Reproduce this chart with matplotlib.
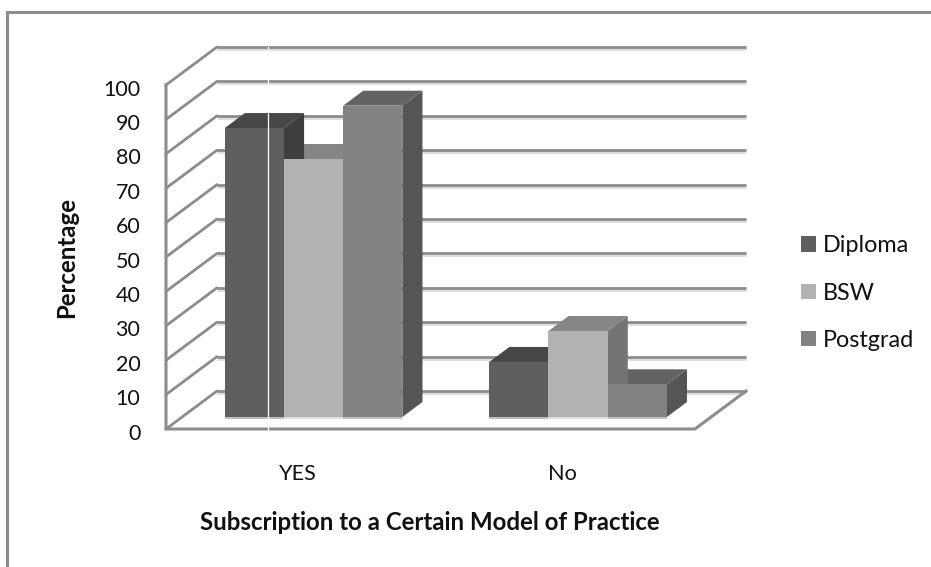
import matplotlib
matplotlib.use("Agg")
import matplotlib.pyplot as plt
from matplotlib.patches import Polygon, Patch
from matplotlib.lines import Line2D
from matplotlib.transforms import ScaledTranslation
import matplotlib.patheffects as pe

categories = ["YES", "No"]
series_names = ["Diploma", "BSW", "Postgrad"]
diploma = [84, 16]
bsw = [75, 25]
postgrad = [90.5, 9.5]
y_ticks = list(range(0, 101, 10))
x_label = "Subscription to a Certain Model of Practice"
y_label = "Percentage"

FRONT = ["#5f5f5f", "#b2b2b2", "#828282"]
TOP = ["#474747", "#868686", "#636363"]
SIDE = ["#3e3e3e", "#747474", "#555555"]
GRID = "#8c8c8c"
TEXT = "#111111"

plt.rcParams["font.family"] = "Lato"
W, H = 931, 567
fig = plt.figure(figsize=(W / 100, H / 100), dpi=100, facecolor="white")

# chart frame: only top and left edges are visible
fig.add_artist(Line2D([7 / W, 7 / W, 1], [0, 1 - 12 / H, 1 - 12 / H], color=GRID, lw=2.2,
                      solid_joinstyle="miter"))

L, R, B, T = 166, 695, 429, 85
ax = fig.add_axes([L / W, 1 - B / H, (R - L) / W, (B - T) / H])
ax.set_xlim(0, len(categories))
ax.set_ylim(0, 100)
for s in ax.spines.values():
    s.set_visible(False)
ax.patch.set_alpha(0)

ppx = (R - L) / len(categories)
ppy = (B - T) / 100.0
DX = 51 / ppx      # full depth of the 3-D box in x units
DY = 38 / ppy      # full depth of the 3-D box in value units


def proj(x, v, z):
    return x + z * DX, v + z * DY


shadow = [pe.SimpleLineShadow(offset=(0, -1.4), shadow_color="#dcdcdc", alpha=1), pe.Normal()]
xmax = len(categories)
for v in y_ticks:
    p0, p1, p2 = proj(0, v, 0), proj(0, v, 1), proj(xmax, v, 1)
    ax.plot([p0[0], p1[0]], [p0[1], p1[1]], color=GRID, lw=2, clip_on=False, zorder=1,
            solid_capstyle="round")
    ax.plot([p1[0], p2[0]], [p1[1], p2[1]], color=GRID, lw=2, clip_on=False, zorder=1,
            path_effects=shadow, solid_capstyle="butt")
# floor + left wall
p3 = proj(xmax, 0, 1)
ax.plot([0, 0, xmax, p3[0]], [100, 0, 0, p3[1]], color=GRID, lw=2.2, clip_on=False, zorder=1,
        solid_joinstyle="miter")

# bars: tops and sides back-to-front by height, then all front faces on top
bw = 59.2 / ppx
z0, z1 = 12 / 38, 27 / 38
shift = -0.8 / ppx
values = [diploma, bsw, postgrad]
for ci in range(len(categories)):
    x_start = ci + 0.5 - 1.5 * bw + shift
    order = sorted(range(3), key=lambda k: values[k][ci])
    for rank, k in enumerate(order):
        v = values[k][ci]
        x0 = x_start + k * bw
        x1 = x0 + bw
        side = [proj(x1, 0, z0), proj(x1, 0, z1), proj(x1, v, z1), proj(x1, v, z0)]
        top = [proj(x0, v, z0), proj(x1, v, z0), proj(x1, v, z1), proj(x0, v, z1)]
        ax.add_patch(Polygon(side, fc=SIDE[k], ec="none", clip_on=False, zorder=3 + rank * 0.1))
        ax.add_patch(Polygon(top, fc=TOP[k], ec="none", clip_on=False, zorder=3 + rank * 0.1))
    for k in range(3):
        v = values[k][ci]
        x0 = x_start + k * bw
        x1 = x0 + bw
        front = [proj(x0, 0, z0), proj(x1, 0, z0), proj(x1, v, z0), proj(x0, v, z0)]
        ax.add_patch(Polygon(front, fc=FRONT[k], ec="none", clip_on=False, zorder=4))
        a, b = proj(x0, 0, z0), proj(x1, 0, z0)
        ax.plot([a[0], b[0]], [a[1] - 0.3, b[1] - 0.3], color="#b8b8b8" if k != 1 else "#dcdcdc",
                lw=1.3, clip_on=False, zorder=4.1, solid_capstyle="butt")

# thin white stripe present in the source image
ax.plot([(268 - L) / ppx] * 2, [-0.6, 111], color="white", lw=0.9, clip_on=False, zorder=5)

ax.set_xticks([i + 0.5 for i in range(len(categories))])
ax.set_xticklabels(categories, fontsize=15.6, color=TEXT)
ax.set_yticks(y_ticks)
ax.set_yticklabels([str(v) for v in y_ticks], fontsize=15.5, color=TEXT)
ax.tick_params(axis="x", length=0, pad=25.5)
ax.tick_params(axis="y", length=0, pad=18.5)
nudge = ScaledTranslation(0, -2.5 / 100, fig.dpi_scale_trans)
for lbl in ax.get_yticklabels():
    lbl.set_transform(lbl.get_transform() + nudge)

fig.text(430 / W, 1 - 522 / H, x_label, ha="center", va="center", fontsize=17.3,
         fontweight="bold", color=TEXT)
fig.text(67 / W, 1 - 258 / H, y_label, ha="center", va="center", rotation=90, fontsize=17.3,
         fontweight="bold", color=TEXT)

handles = [Patch(fc=c, ec="none") for c in FRONT]
fig.legend(handles, series_names, loc="center left", bbox_to_anchor=(801 / W, 1 - 293 / H),
           frameon=False, fontsize=16.8, handlelength=0.64, handleheight=0.64, handletextpad=0.3,
           labelspacing=1.135, labelcolor=TEXT, borderpad=0, borderaxespad=0)

fig.savefig("out.png", dpi=100, facecolor="white")
